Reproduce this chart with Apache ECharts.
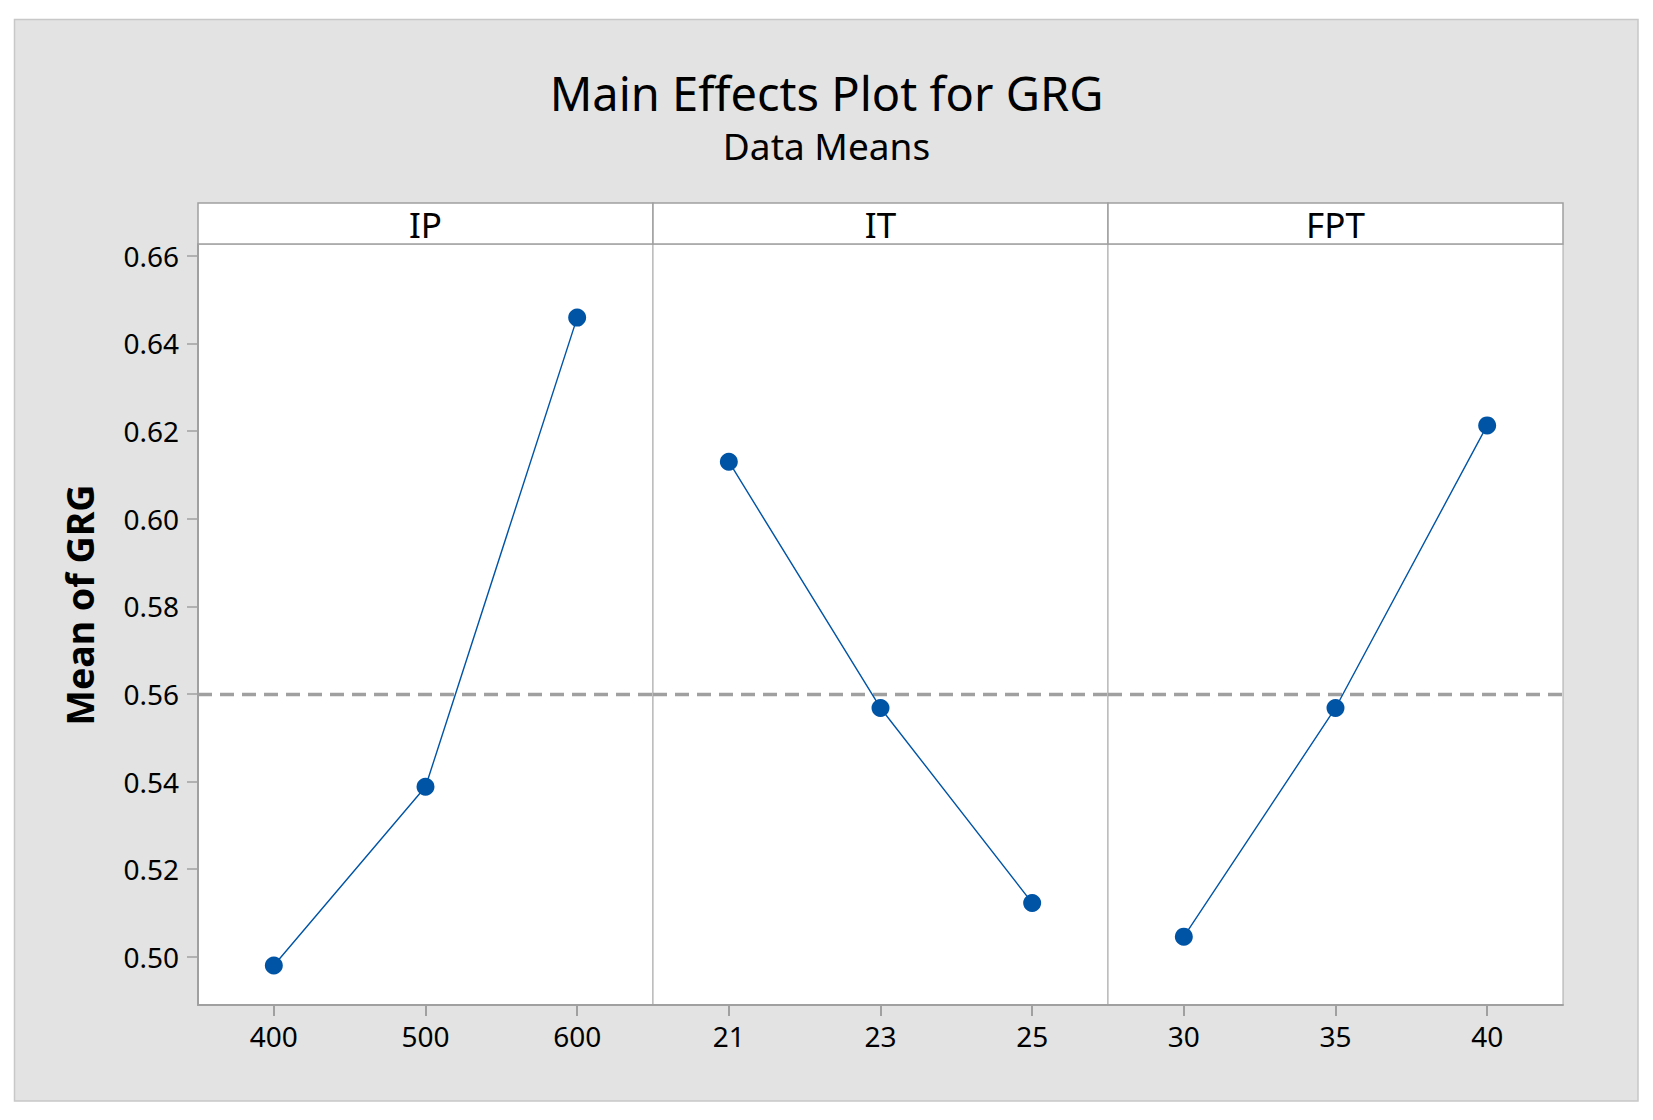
<!DOCTYPE html>
<html>
<head>
<meta charset="utf-8">
<script src="https://cdn.jsdelivr.net/npm/echarts@6/dist/echarts.min.js"></script>
<style>
html,body{margin:0;padding:0;background:#fff;}
#chart{width:1653px;height:1120px;}
</style>
</head>
<body>
<div id="chart"></div>
<script>
// ---- data ----
const factors = ['IP', 'IT', 'FPT'];
const ipLevels = ['400', '500', '600'];
const ipMeans = [0.4980, 0.5388, 0.6459];
const itLevels = ['21', '23', '25'];
const itMeans = [0.6130, 0.5568, 0.5123];
const fptLevels = ['30', '35', '40'];
const fptMeans = [0.5046, 0.5568, 0.6213];
const grandMean = 0.5606;
const yTicks = [0.50, 0.52, 0.54, 0.56, 0.58, 0.60, 0.62, 0.64, 0.66];
const titleText = 'Main Effects Plot for GRG';
const subtitleText = 'Data Means';
const yAxisTitle = 'Mean of GRG';

// ---- layout ----
const FONT = 'Noto Sans';
const L = 198, PW = 455, TOP = 244, H = 761, STRIP_TOP = 203;
const Y_MIN = 0.4890, Y_MAX = 0.6627;
const AXIS_GREY = '#a0a0a0';
const BLUE = '#0054a6';

const levelSets = [ipLevels, itLevels, fptLevels];
const meanSets = [ipMeans, itMeans, fptMeans];

const grids = [], xAxes = [], yAxes = [], series = [], graphics = [];

graphics.push({
  type: 'rect', z: -10, silent: true,
  shape: { x: 14.5, y: 19.5, width: 1623.5, height: 1081.5 },
  style: { fill: '#e3e3e3', stroke: '#c8c8c8', lineWidth: 1.5 }
});

graphics.push({
  type: 'text', silent: true, z: 2,
  x: 79, y: 605, rotation: Math.PI / 2,
  style: {
    text: yAxisTitle, x: 0, y: 0,
    align: 'center', verticalAlign: 'middle',
    fontSize: 37.5, fontWeight: 'bold', fontFamily: FONT, fill: '#000'
  }
});

factors.forEach((f, i) => {
  grids.push({
    left: L + i * PW, top: TOP, width: PW, height: H,
    show: true, backgroundColor: '#ffffff', borderColor: '#a8a8a8', borderWidth: 1
  });
  xAxes.push({
    type: 'category', gridIndex: i, data: levelSets[i], boundaryGap: true,
    axisLine: { show: true, lineStyle: { color: AXIS_GREY, width: 2 } },
    axisTick: { show: true, alignWithLabel: true, length: 11, lineStyle: { color: AXIS_GREY, width: 2 } },
    axisLabel: { show: true, color: '#000', fontSize: 28, fontFamily: FONT, margin: 17 },
    splitLine: { show: false }
  });
  yAxes.push({
    type: 'value', gridIndex: i, min: Y_MIN, max: Y_MAX, show: i === 0,
    axisLine: { show: true, lineStyle: { color: AXIS_GREY, width: 2 } },
    axisTick: { show: true, length: 11, customValues: yTicks, lineStyle: { color: AXIS_GREY, width: 1.5 } },
    axisLabel: { show: true, customValues: yTicks, color: '#000', fontSize: 28, fontFamily: FONT, margin: 19,
      formatter: v => Number(v).toFixed(2) },
    splitLine: { show: false }
  });
  series.push({
    type: 'line', xAxisIndex: i, yAxisIndex: i, data: meanSets[i],
    symbol: 'circle', symbolSize: 18,
    itemStyle: { color: BLUE },
    lineStyle: { color: BLUE, width: 1.4 },
    z: 5,
    markLine: {
      silent: true, symbol: 'none', z: 3,
      label: { show: false },
      lineStyle: { color: AXIS_GREY, width: 3.3, type: [14, 8] },
      data: [{ yAxis: grandMean }]
    }
  });
  graphics.push({
    type: 'rect', silent: true, z: 1,
    shape: { x: L + i * PW, y: STRIP_TOP, width: PW, height: TOP - STRIP_TOP },
    style: { fill: '#ffffff', stroke: AXIS_GREY, lineWidth: 1.5 }
  });
  graphics.push({
    type: 'text', silent: true, z: 2,
    style: {
      text: f, x: L + i * PW + PW / 2, y: 224,
      align: 'center', verticalAlign: 'middle',
      fontSize: 35, fontFamily: FONT, fill: '#000'
    }
  });
});

const chart = echarts.init(document.getElementById('chart'), null, { renderer: 'svg' });
chart.setOption({
  animation: false,
  backgroundColor: '#ffffff',
  title: [
    { text: titleText, left: 'center', top: 64,
      textStyle: { fontSize: 47, fontWeight: 'normal', fontFamily: FONT, color: '#000' } },
    { text: subtitleText, left: 'center', top: 122,
      textStyle: { fontSize: 37, fontWeight: 'normal', fontFamily: FONT, color: '#000' } }
  ],
  grid: grids,
  xAxis: xAxes,
  yAxis: yAxes,
  series: series,
  graphic: graphics
});
</script>
</body>
</html>
